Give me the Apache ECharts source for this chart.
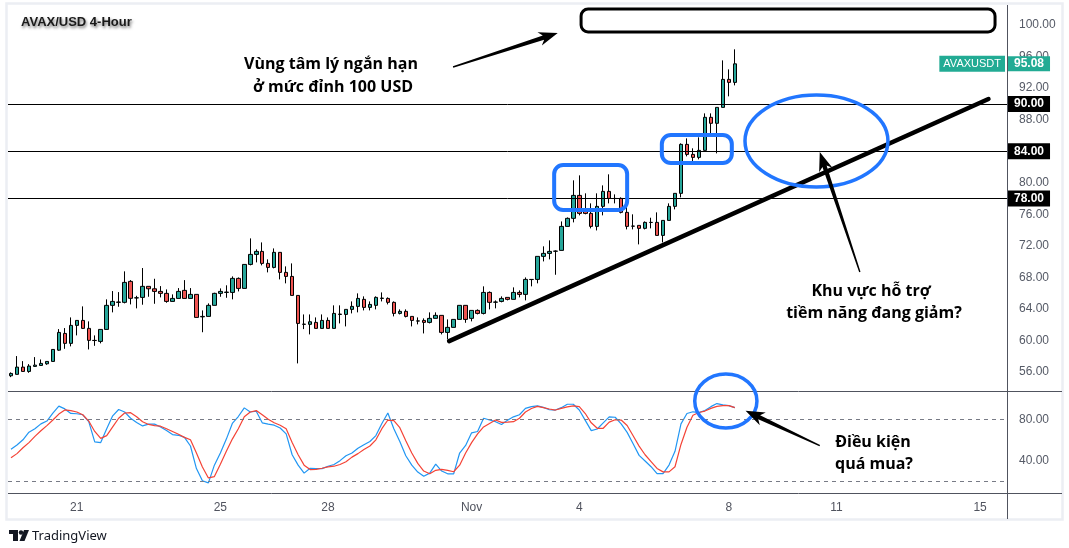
<!DOCTYPE html>
<html lang="vi">
<head>
<meta charset="UTF-8">
<title>AVAX/USD 4-Hour</title>
<style>
  html, body { margin: 0; padding: 0; background: #fff; }
  #box { width: 1069px; height: 548px; }
</style>
</head>
<body>
<div id="box"></div>
<script src="https://cdn.jsdelivr.net/npm/echarts@6/dist/echarts.min.js"></script>
<script>
// 4h candles, 19 Oct -> 8 Nov
var opens = [55.53,55.71,56.63,56.08,56.72,56.84,57.05,57.35,58.78,60.90,
  59.64,61.92,62.55,61.54,60.02,59.89,61.41,64.46,64.84,64.84,
  67.50,65.40,65.47,66.87,66.56,66.23,65.98,64.96,65.34,66.36,
  65.34,65.85,63.00,63.06,64.46,65.98,66.10,66.10,67.88,66.61,
  69.65,70.92,71.30,69.78,69.27,71.18,68.64,68.13,65.72,62.05,
  62.05,62.30,61.54,62.55,61.54,63.31,63.31,63.95,64.33,65.22,
  64.20,64.46,65.34,65.34,64.84,63.44,63.70,63.06,62.47,62.55,
  62.30,62.81,63.19,61.03,61.67,62.68,64.46,62.81,63.82,63.44,
  66.10,64.86,64.96,65.47,65.22,66.10,65.85,67.73,67.75,70.67,
  71.05,71.32,71.43,74.47,75.49,78.40,76.37,76.12,74.47,77.01,
  78.91,78.00,78.02,76.25,74.50,74.60,74.22,74.97,74.98,73.33,
  75.23,77.01,78.66,84.87,83.60,83.22,84.11,88.30,87.54,89.56,
  93.11,92.73];
var closes = [55.83,56.63,56.08,56.76,56.88,57.10,57.35,58.87,61.03,59.64,
  61.92,62.55,61.54,60.02,60.00,61.41,64.46,64.96,64.88,67.37,
  65.35,65.42,66.87,66.56,66.23,65.98,64.96,65.34,66.23,65.34,
  65.85,62.93,63.06,64.46,65.98,66.23,66.14,67.88,66.61,69.65,
  70.92,71.30,69.78,69.27,71.18,68.64,68.13,65.72,62.17,62.08,
  62.38,61.54,62.55,61.54,63.44,63.35,63.95,64.33,65.34,64.20,
  64.58,65.47,65.38,64.84,63.44,63.70,63.06,62.55,62.49,62.30,
  62.81,63.19,61.03,61.67,62.68,64.46,62.68,63.82,63.44,66.10,
  64.84,64.88,65.34,65.22,66.10,65.85,67.75,67.75,70.67,71.05,
  71.30,71.34,74.47,75.49,78.40,76.12,76.12,74.47,77.01,78.91,
  78.02,78.02,76.25,74.47,74.51,74.22,74.98,74.98,73.33,75.23,
  77.01,78.66,84.87,83.60,83.22,84.11,88.30,87.54,89.56,93.11,
  92.73,95.08];
var lows = [55.36,55.71,56.08,55.91,56.67,56.80,56.92,57.35,58.70,58.95,
  59.26,60.65,61.50,58.87,59.33,59.64,61.41,63.57,64.28,64.71,
  64.58,64.08,64.54,65.55,64.66,65.47,64.79,64.96,65.34,65.34,
  65.34,62.93,61.05,63.06,64.46,65.55,65.42,65.22,66.23,66.61,
  69.53,69.91,69.53,68.64,69.15,67.75,67.25,65.72,57.10,61.45,
  60.78,61.54,61.54,61.54,61.54,62.17,61.79,63.44,63.57,63.82,
  63.82,63.95,64.96,64.58,63.06,63.31,62.93,61.79,62.05,60.90,
  62.17,62.81,60.78,60.14,61.67,62.68,62.25,62.43,63.31,63.31,
  63.95,64.08,64.84,65.09,65.22,65.47,65.09,66.87,67.25,70.03,
  70.29,68.34,71.43,74.47,74.98,75.87,76.00,74.22,73.96,75.87,
  77.39,77.39,76.12,74.09,74.09,72.19,74.09,74.22,73.33,72.44,
  75.23,76.63,78.15,83.35,82.34,82.97,84.11,86.27,83.73,89.56,
  90.96,92.35];
var highs = [55.96,58.03,57.39,57.01,57.90,57.60,57.35,58.87,61.45,61.58,
  62.93,62.55,64.33,62.43,60.65,61.41,65.22,66.27,66.14,68.77,
  67.66,65.67,69.19,66.87,67.83,66.90,66.48,65.85,66.65,67.66,
  66.65,65.85,63.82,64.71,66.06,66.61,67.00,68.13,68.00,69.65,
  72.95,71.56,72.44,70.29,71.68,71.18,69.40,69.78,65.72,63.31,
  63.31,62.93,63.31,62.93,64.46,64.46,63.95,64.96,65.98,65.60,
  64.96,65.60,66.10,65.47,64.96,63.95,63.95,63.06,62.93,62.81,
  63.57,63.57,63.19,62.68,62.68,64.46,64.46,63.82,63.95,66.87,
  66.23,65.09,65.60,65.47,66.74,66.36,68.00,67.75,70.67,71.94,
  72.70,71.43,75.10,75.61,80.31,80.94,78.66,77.39,78.66,79.67,
  81.07,78.53,78.15,77.39,76.00,74.60,75.10,75.57,76.25,75.23,
  77.39,78.66,85.00,85.63,84.37,85.76,88.80,88.80,89.56,95.52,
  94.38,96.92];

// stochastic %K (blue) and %D (red)
var stochK = [51.0,55.1,60.1,67.5,70.9,75.6,78.3,86.1,92.8,90.1,
  85.7,85.4,84.4,77.7,58.1,57.4,70.9,83.4,89.5,87.1,
  81.0,77.0,73.6,75.3,75.3,72.6,69.2,65.2,64.5,62.5,
  54.1,32.2,20.4,18.3,35.5,47.3,60.8,76.0,82.7,91.1,
  87.1,87.8,76.6,75.3,74.3,71.6,65.9,45.6,35.5,27.8,
  32.5,32.2,32.2,34.5,36.2,39.9,44.6,47.3,52.0,55.4,
  58.5,64.2,76.0,86.1,70.9,58.5,44.6,35.5,28.8,24.7,
  27.8,36.5,29.8,27.1,27.1,47.3,54.7,66.9,68.2,81.0,
  79.3,77.7,75.0,79.0,82.4,84.4,90.6,92.3,93.0,91.6,
  89.3,89.0,91.3,94.6,94.6,89.0,79.0,69.0,70.6,76.6,
  82.3,82.0,75.6,67.3,56.3,45.0,39.6,34.0,27.3,27.3,
  35.6,49.0,75.6,85.6,87.3,86.6,88.6,92.3,95.3,94.0,
  93.3,91.3];
var stochD = [42.6,46.7,52.4,57.4,63.5,68.9,73.9,79.3,85.1,89.1,
  88.5,87.1,84.4,78.3,68.2,61.5,64.2,72.6,81.0,86.1,
  86.4,82.4,77.7,75.0,73.9,73.3,70.9,68.2,65.5,62.5,
  60.1,47.3,33.8,23.1,24.4,36.5,49.0,60.8,70.9,82.4,
  87.1,88.5,84.4,80.0,76.6,74.3,70.9,57.4,45.6,35.5,
  31.2,31.5,32.5,33.8,34.5,36.2,38.9,43.3,46.7,50.7,
  54.1,60.1,70.9,79.3,78.7,71.9,59.1,47.3,37.2,29.8,
  27.1,30.5,31.5,30.5,29.1,35.5,47.3,57.4,65.9,72.6,
  76.0,79.3,77.0,77.3,77.7,81.0,87.1,90.5,92.5,91.3,
  90.0,89.0,90.6,92.0,93.0,92.3,85.6,76.6,71.3,71.3,
  77.3,79.6,79.3,74.0,64.0,54.0,45.6,39.0,32.3,29.0,
  29.0,34.0,55.6,72.3,84.0,86.6,88.0,90.6,92.6,93.3,
  93.3,91.3];

var levels = [90, 84, 78];
var priceTicks = [56, 60, 64, 68, 72, 76, 80, 84, 88, 92, 96, 100];
var stochTicks = [40, 80];
var stochBands = [80, 20];
var tickIdx = [11, 35, 53, 77, 95, 120, 138, 162];
var tickText = ['21', '25', '28', 'Nov', '4', '8', '11', '15'];
var slots = 167; // candles + empty space to the right

// drawings, in (candle index, price) or (candle index, stoch) units
var trendLine = [[73.24, 59.93], [163.4, 90.62]];
var topBox = [[95.3, 102.03, 164.5, 99.12]];
var blueBoxes = [[90.8, 82.25, 103.0, 76.54], [108.8, 86.05, 120.5, 82.50]];
var priceEllipse = [[122.7, 91.13, 146.6, 79.46]];
var priceArrows = [[73.9, 94.68, 91.4, 98.99], [141.9, 68.68, 135.2, 83.9]];
var stochEllipse = [[114.3, 124.0, 124.7, 71.55]];
var stochArrows = [[135.2, 54.56, 122.8, 88.25]];

var cats = [];
for (var i = 0; i < slots; i++) {
  var k = tickIdx.indexOf(i);
  cats.push(k >= 0 ? tickText[k] : '');
}
var candles = opens.map(function (o, i) { return [o, closes[i], lows[i], highs[i]]; });

var BLUE = '#2176ff';
var box = echarts.init(document.getElementById('box'));

function rectSeries(data, xi, yi, color, width, r) {
  return {
    type: 'custom', xAxisIndex: xi, yAxisIndex: yi, data: data, silent: true, z: 6,
    renderItem: function (params, api) {
      var a = api.coord([api.value(0), api.value(1)]);
      var b = api.coord([api.value(2), api.value(3)]);
      return {
        type: 'rect',
        shape: { x: Math.min(a[0], b[0]), y: Math.min(a[1], b[1]), width: Math.abs(b[0] - a[0]), height: Math.abs(b[1] - a[1]), r: r },
        style: { fill: 'none', stroke: color, lineWidth: width }
      };
    }
  };
}
function ellipseSeries(data, xi, yi) {
  return {
    type: 'custom', xAxisIndex: xi, yAxisIndex: yi, data: data, silent: true, z: 6,
    renderItem: function (params, api) {
      var a = api.coord([api.value(0), api.value(1)]);
      var b = api.coord([api.value(2), api.value(3)]);
      return {
        type: 'ellipse',
        shape: { cx: (a[0] + b[0]) / 2, cy: (a[1] + b[1]) / 2, rx: Math.abs(b[0] - a[0]) / 2, ry: Math.abs(b[1] - a[1]) / 2 },
        style: { fill: 'none', stroke: BLUE, lineWidth: 3.5 }
      };
    }
  };
}
function arrowSeries(data, xi, yi) {
  return {
    type: 'custom', xAxisIndex: xi, yAxisIndex: yi, data: data, silent: true, z: 7,
    renderItem: function (params, api) {
      var t = api.coord([api.value(0), api.value(1)]);
      var h = api.coord([api.value(2), api.value(3)]);
      var dx = h[0] - t[0], dy = h[1] - t[1];
      var len = Math.sqrt(dx * dx + dy * dy);
      var ux = dx / len, uy = dy / len, nx = -uy, ny = ux;
      var b = [h[0] - ux * 15, h[1] - uy * 15];
      var w = [h[0] - ux * 19, h[1] - uy * 19];
      function p(o, d) { return [o[0] + nx * d, o[1] + ny * d]; }
      return {
        type: 'polygon',
        shape: { points: [p(t, 0.7), p(b, 2.2), p(w, 7), h, p(w, -7), p(b, -2.2), p(t, -0.7)] },
        style: { fill: '#000' }
      };
    }
  };
}

function note(x, y, text) {
  return {
    type: 'text', x: x, y: y, silent: true, z: 10,
    style: { text: text, fill: '#000', font: 'bold 16px "Open Sans", "Noto Sans", sans-serif', textAlign: 'center', textVerticalAlign: 'middle' }
  };
}

var option = {
  animation: false,
  backgroundColor: '#fff',
  textStyle: { fontFamily: 'Liberation Sans, Arial, sans-serif' },
  grid: [
    { left: 8, right: 62, top: 5, height: 386.8 },
    { left: 8, right: 62, top: 392, height: 101 }
  ],
  xAxis: [
    { type: 'category', gridIndex: 0, data: cats, boundaryGap: true,
      axisLine: { show: false }, axisTick: { show: false }, axisLabel: { show: false }, splitLine: { show: false } },
    { type: 'category', gridIndex: 1, data: cats, boundaryGap: true,
      axisLine: { show: false }, axisTick: { show: false }, splitLine: { show: false },
      axisLabel: { interval: 0, color: '#50535e', fontSize: 12, margin: 9 } },
    { type: 'value', gridIndex: 0, min: -0.5, max: slots - 0.5, show: false },
    { type: 'value', gridIndex: 1, min: -0.5, max: slots - 0.5, show: false }
  ],
  yAxis: [
    { type: 'value', gridIndex: 0, position: 'right', min: 53.5, max: 102.54,
      splitLine: { show: false }, axisLine: { show: false }, axisTick: { show: false },
      axisLabel: { customValues: priceTicks, color: '#555a66', fontSize: 12, margin: 12,
        formatter: function (v) { return v.toFixed(2); } } },
    { type: 'value', gridIndex: 1, position: 'right', min: 8.5, max: 106.5,
      splitLine: { show: false }, axisLine: { show: false }, axisTick: { show: false },
      axisLabel: { customValues: stochTicks, color: '#555a66', fontSize: 12, margin: 12,
        formatter: function (v) { return v.toFixed(2); } } }
  ],
  series: [
    {
      name: 'AVAXUSDT', type: 'candlestick', xAxisIndex: 0, yAxisIndex: 0,
      data: candles, barWidth: 4,
      itemStyle: { color: '#26a69a', color0: '#ef5350', borderColor: '#000', borderColor0: '#000', borderWidth: 1 },
      markLine: {
        silent: true, symbol: ['none', 'none'],
        lineStyle: { color: '#000', width: 1, type: 'solid' },
        label: { show: true, position: 'end', distance: 1,
          formatter: function (p) { return p.value.toFixed(2); },
          backgroundColor: '#000', color: '#fff', fontWeight: 'bold', fontSize: 12,
          lineHeight: 13, padding: [2, 6, 1, 6] },
        data: levels.map(function (v) { return { yAxis: v }; })
      }
    },
    {
      type: 'line', xAxisIndex: 2, yAxisIndex: 0, data: trendLine, symbol: 'none', z: 4,
      lineStyle: { color: '#000', width: 4.5, cap: 'round' }
    },
    {
      name: '%K', type: 'line', xAxisIndex: 1, yAxisIndex: 1, data: stochK, symbol: 'none',
      lineStyle: { color: '#2196f3', width: 1.2 },
      markLine: {
        silent: true, symbol: ['none', 'none'], label: { show: false },
        lineStyle: { color: '#787b86', width: 1, type: [4, 4] },
        data: stochBands.map(function (v) { return { yAxis: v }; })
      }
    },
    {
      name: '%D', type: 'line', xAxisIndex: 1, yAxisIndex: 1, data: stochD, symbol: 'none',
      lineStyle: { color: '#f44336', width: 1.2 }
    },
    rectSeries(topBox, 2, 0, '#000', 3, 7),
    rectSeries(blueBoxes, 2, 0, BLUE, 4, 9),
    ellipseSeries(priceEllipse, 2, 0),
    arrowSeries(priceArrows, 2, 0),
    ellipseSeries(stochEllipse, 3, 1),
    arrowSeries(stochArrows, 3, 1)
  ],
  graphic: [
    { type: 'rect', silent: true, shape: { x: 6.5, y: 3.5, width: 1056, height: 516 },
      style: { fill: 'none', stroke: '#eceef3', lineWidth: 2.5 } },
    { type: 'line', silent: true, shape: { x1: 1007.5, y1: 5, x2: 1007.5, y2: 519 }, style: { stroke: '#50535e', lineWidth: 1 } },
    { type: 'line', silent: true, shape: { x1: 8, y1: 391.5, x2: 1062, y2: 391.5 }, style: { stroke: '#50535e', lineWidth: 1 } },
    { type: 'line', silent: true, shape: { x1: 8, y1: 493.5, x2: 1062, y2: 493.5 }, style: { stroke: '#50535e', lineWidth: 1 } },
    { type: 'text', x: 21, y: 22, silent: true, z: 10,
      style: { text: 'AVAX/USD 4-Hour', fill: '#1a1a1a', font: 'bold 13px "Liberation Sans", Arial, sans-serif',
        textVerticalAlign: 'middle', textShadowColor: 'rgba(0,0,0,0.55)', textShadowBlur: 3, textShadowOffsetX: 1, textShadowOffsetY: 2 } },
    note(331, 64, 'Vùng tâm lý ngắn hạn'),
    note(333, 87, 'ở mức đỉnh 100 USD'),
    note(871, 291, 'Khu vực hỗ trợ'),
    note(874, 313, 'tiềm năng đang giảm?'),
    note(873, 442, 'Điều kiện'),
    note(874, 464, 'quá mua?'),
    // TradingView mark
    { type: 'rect', silent: true, shape: { x: 9, y: 530, width: 9, height: 4 }, style: { fill: '#131722' } },
    { type: 'rect', silent: true, shape: { x: 13, y: 530, width: 5, height: 11 }, style: { fill: '#131722' } },
    { type: 'circle', silent: true, shape: { cx: 21, cy: 532.5, r: 2.2 }, style: { fill: '#131722' } },
    { type: 'polygon', silent: true, shape: { points: [[24, 530], [29, 530], [24.5, 541], [19.5, 541]] }, style: { fill: '#131722' } },
    { type: 'text', x: 32, y: 536, silent: true,
      style: { text: 'TradingView', fill: '#131722', font: '13px "Noto Sans", sans-serif', textVerticalAlign: 'middle' } }
  ]
};
box.setOption(option);

// last price tag on the price scale
var last = closes[closes.length - 1];
var ly = box.convertToPixel({ yAxisIndex: 0 }, last);
box.setOption({
  graphic: [
    { id: 'tagName', type: 'text', x: 1005, y: ly, z: 20, silent: true,
      style: { text: 'AVAXUSDT', fill: '#fff', font: '11px "Liberation Sans", sans-serif',
        textAlign: 'right', textVerticalAlign: 'middle', backgroundColor: '#22ab94', padding: [3, 4, 2, 4] } },
    { id: 'tagPrice', type: 'text', x: 1008, y: ly, z: 20, silent: true,
      style: { text: last.toFixed(2), fill: '#fff', font: 'bold 12px "Liberation Sans", sans-serif',
        textVerticalAlign: 'middle', backgroundColor: '#22ab94', padding: [2, 6, 1, 6] } }
  ]
});
</script>
</body>
</html>
